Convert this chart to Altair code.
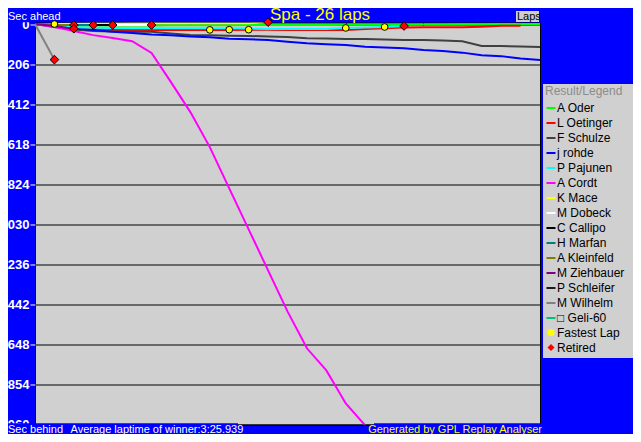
import altair as alt
import pandas as pd

# ---------------- data ----------------
drivers = ["A Oder", "L Oetinger", "F Schulze", "j rohde", "P Pajunen", "A Cordt",
           "K Mace", "M Dobeck", "C Callipo", "H Marfan", "A Kleinfeld",
           "M Ziehbauer", "P Schleifer", "M Wilhelm", "\u25a1 Geli-60"]
colors = ["#00ff00", "#ff0000", "#404040", "#0000ff", "#00ffff", "#ff00ff",
          "#ffff00", "#ffffff", "#000000", "#008080", "#808000",
          "#800080", "#1a1a1a", "#808080", "#00c080"]

# seconds behind the winner's average pace, per lap (lap 0 first)
oder = [0, 6, 8, 8, 8, 7, 7, 6, 6, 6, 6, 5, 5, 5, 5, 5, 4, 4, 3, 3, 2, 2, 1, 1, 0, 0, 0]
oetinger = [0, 10, 20, 25, 30, 31, 31, 31, 31, 31, 30, 29, 29, 30, 31, 31, 30, 26, 22, 18, 17, 17, 17, 14, 9, 9]
schulze = [0, 15, 28, 36, 38, 39, 40, 48, 56, 57, 60, 61, 64, 66, 73, 74, 77, 77, 80, 82, 82, 84, 88, 113, 113, 115, 118]
rohde = [0, 10, 21, 31, 39, 46, 54, 57, 64, 68, 75, 78, 82, 91, 99, 104, 108, 117, 121, 125, 134, 139, 147, 160, 165, 177, 185]
pajunen = [0, 10, 16, 19, 20, 21, 21, 21, 21, 21, 21, 23, 25, 26, 26, 25, 20, 18, 15, 10]
cordt = [0, 15, 36, 57, 72, 88, 149, 299, 453, 633, 845, 1056, 1267, 1478, 1668, 1782, 1952, 2065, 2180]
mace = [0, 0, -2, -3, -3, -4, -4, -4, -4, -4, -4, -4, -10]
dobeck = [0, 5, 5, 5, 5, 5, 5]
callipo = [0, 5, 5, 5, 5]
marfan = [0, 5, 5, 5]
kleinfeld = [0, 4, 5]
ziehbauer = [0, 10, 24]
wilhelm = [0, 183]

series = {"A Oder": oder, "L Oetinger": oetinger, "F Schulze": schulze, "j rohde": rohde,
          "P Pajunen": pajunen, "A Cordt": cordt, "K Mace": mace, "M Dobeck": dobeck,
          "C Callipo": callipo, "H Marfan": marfan, "A Kleinfeld": kleinfeld,
          "M Ziehbauer": ziehbauer, "M Wilhelm": wilhelm}

fast_laps = [1, 9, 10, 11, 16, 18]
fast_secs = [0, 30, 29, 29, 20, 15]
ret_laps = [1, 2, 2, 3, 4, 6, 12, 19]
ret_secs = [183, 5, 24, 5, 5, 5, -10, 10]

lap_ticks = list(range(27))
sec_ticks = [0, 206, 412, 618, 824, 1030, 1236, 1442, 1648, 1854, 2060]

rows = []
for d in drivers:
    for lap, v in enumerate(series.get(d, [])):
        rows.append({"name": d, "lap": lap, "sec": v})
lines_df = pd.DataFrame(rows)

fast_df = pd.DataFrame({"kind": "Fastest Lap", "lap": fast_laps, "sec": fast_secs})
ret_df = pd.DataFrame({"kind": "Retired", "lap": ret_laps, "sec": ret_secs})

FONT = "Liberation Sans"
W, H = 505, 402

x_scale = alt.Scale(domain=[0, 26], nice=False, zero=False)
y_scale = alt.Scale(domain=[-8, 2060], reverse=True, nice=False, zero=False)

x_axis = alt.Axis(orient="top", values=lap_ticks, labels=False, domain=False, grid=False,
                  ticks=True, tickColor="black", tickSize=3, offset=-3, title=None)
y_axis = alt.Axis(values=sec_ticks, labelColor="white", labelFont=FONT, labelFontSize=13,
                  labelFontWeight="bold", tickColor="white", tickSize=5, labelPadding=1,
                  domain=False, grid=True, gridColor="black", gridWidth=1, labelOverlap=False,
                  title=None)

line_legend = alt.Legend(title="Result/Legend", orient="none", legendX=508, legendY=61.5,
                         direction="vertical", padding=2, titleColor="#8c8c8c", titleFont=FONT,
                         titleFontSize=12, titleFontWeight="normal", titlePadding=4,
                         labelFont=FONT, labelFontSize=12, labelColor="black",
                         symbolType="stroke", symbolSize=81, symbolStrokeWidth=2,
                         rowPadding=3, labelOffset=0)
pt_legend = alt.Legend(title=None, orient="none", legendX=510, legendY=304, direction="vertical",
                       padding=0, labelFont=FONT, labelFontSize=12, labelColor="black",
                       symbolSize=50, symbolStrokeColor="black", symbolStrokeWidth=1,
                       rowPadding=3, labelOffset=0)

lines = alt.Chart(lines_df).mark_line(strokeWidth=2, clip=True).encode(
    x=alt.X("lap:Q", scale=x_scale, axis=x_axis),
    y=alt.Y("sec:Q", scale=y_scale, axis=y_axis),
    color=alt.Color("name:N", scale=alt.Scale(domain=drivers, range=colors), legend=line_legend),
)

kinds = ["Fastest Lap", "Retired"]


def point_layer(df, size):
    return alt.Chart(df).mark_point(filled=True, stroke="black", strokeWidth=1, opacity=1,
                                    size=size).encode(
        x=alt.X("lap:Q", scale=x_scale),
        y=alt.Y("sec:Q", scale=y_scale),
        fill=alt.Fill("kind:N", scale=alt.Scale(domain=kinds, range=["#ffff00", "#ff0000"]),
                      legend=pt_legend),
        shape=alt.Shape("kind:N", scale=alt.Scale(domain=kinds, range=["circle", "diamond"]),
                        legend=pt_legend),
    )


fast_pts = point_layer(fast_df, 45)
ret_pts = point_layer(ret_df, 75)


def box(x, x2, y, y2, **kw):
    return alt.Chart(pd.DataFrame({"k": [0]})).mark_rect(**kw).encode(
        x=alt.value(x), x2=alt.value(x2), y=alt.value(y), y2=alt.value(y2))


def label(text, x, y, color, size, align="left", weight="normal"):
    return alt.Chart(pd.DataFrame({"t": [text]})).mark_text(
        align=align, baseline="alphabetic", color=color, fontSize=size, font=FONT,
        fontWeight=weight).encode(text="t:N", x=alt.value(x), y=alt.value(y))


legend_bg = box(508, 603, 61.5, 335.5, fill="#d0d0d0")
top_left_bg = box(-40, -4, -30, -0.2, fill="#0000ff")
bottom_bg1 = box(-40, 203, 400.8, 430, fill="#0000ff")
bottom_bg2 = box(339, 508, 400.8, 430, fill="#0000ff")
laps_bg = box(481, 504, -11.5, -0.5, fill="#d0d0d0")

title = label("Spa - 26 laps", 285, -3, "#ffff00", 17, align="center")
sec_ahead = label("Sec ahead", -27, -2.5, "white", 11)
laps_txt = label("Laps", 482, -2.5, "black", 11)
sec_behind = label("Sec behind", -27, 410.5, "white", 11)
avg_txt = label("Average laptime of winner:3:25.939", 35.5, 410.5, "white", 11)
gen_txt = label("Generated by GPL Replay Analyser", 507, 410.5, "#ffff00", 11, align="right")

chart = alt.layer(
    legend_bg, lines, fast_pts, ret_pts, top_left_bg, bottom_bg1, bottom_bg2, laps_bg,
    title, sec_ahead, laps_txt, sec_behind, avg_txt, gen_txt,
).properties(
    width=W, height=H,
    autosize=alt.AutoSizeParams(type="none"),
    padding={"left": 27, "top": 14.5, "right": 93, "bottom": 9.5},
    background="#0000ff",
).configure_view(
    fill="#d0d0d0", stroke="black", strokeWidth=1,
)

chart.save("out.html", embed_options={"renderer": "svg", "actions": False})
